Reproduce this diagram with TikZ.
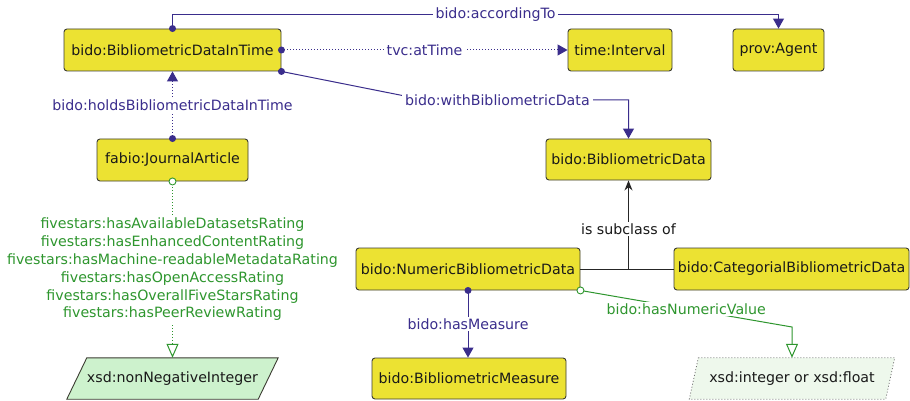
\documentclass[tikz,border=0pt]{standalone}
\usepackage{fontspec}
\setmainfont{DejaVu Sans}
\usetikzlibrary{arrows.meta,calc,backgrounds}
\definecolor{boxfill}{RGB}{236,226,50}
\definecolor{boxline}{RGB}{60,60,50}
\definecolor{objprop}{RGB}{58,45,140}
\definecolor{dataprop}{RGB}{46,150,46}
\definecolor{dtfill}{RGB}{205,242,205}
\definecolor{dtfaint}{RGB}{238,248,236}

\begin{document}
\begin{tikzpicture}[x=1pt,y=-1pt,
  every node/.style={font=\fontsize{14.2}{17.8}\selectfont, inner sep=0pt},
  cls/.style={draw=boxline, fill=boxfill, rounded corners=3pt, line width=0.9pt,
    minimum height=42pt, text=black!90},
  dtype/.style={minimum height=41pt, text=black!90},
  lbl/.style={fill=white, inner xsep=3pt, inner ysep=1.5pt},
  oprop/.style={draw=objprop, line width=1pt, text=objprop,
    -{Triangle[length=10pt,width=11pt]}},
  dprop/.style={draw=dataprop, line width=1pt, text=dataprop,
    -{Triangle[open,length=14pt,width=12pt,fill=white]}},
  dotline/.style={dash pattern=on 1pt off 2pt},
  subcls/.style={draw=black!85, line width=1pt},
  odot/.style={fill=objprop},
  ocirc/.style={draw=dataprop, fill=white, line width=0.9pt}
]
\useasboundingbox (0,0) rectangle (910,401);

% classes
\node[cls, minimum width=217pt] (bdit) at (172.5,50) {bido:BibliometricDataInTime};
\node[cls, minimum width=104pt] (interval) at (620,50) {time:Interval};
\node[cls, minimum width=91pt] (agent) at (778.5,50) {prov:Agent};
\node[cls, minimum width=165pt, minimum height=41pt] (bdata) at (628.5,159.5) {bido:BibliometricData};
\node[cls, minimum width=151pt] (ja) at (172.5,160) {fabio:JournalArticle};
\node[cls, minimum width=224pt] (numeric) at (468,269) {bido:NumericBibliometricData};
\node[cls, minimum width=235pt] (categorial) at (791.5,269) {bido:CategorialBibliometricData};
\node[cls, minimum width=194pt, minimum height=41pt] (measure) at (469,378.5) {bido:BibliometricMeasure};

% datatypes
\node[dtype, minimum width=191pt] (nni) at (172.5,378.5) {xsd:nonNegativeInteger};
\node[dtype, minimum width=196pt] (numval) at (792,378.5) {xsd:integer or xsd:float};

\begin{scope}[on background layer]
  \fill[white] (0,0) rectangle (910,401);
  \filldraw[fill=dtfill, draw=boxline, line width=0.9pt]
    ($(nni.north west)+(10,0)$) -- ($(nni.north east)+(10,0)$) --
    ($(nni.south east)+(-10,0)$) -- ($(nni.south west)+(-10,0)$) -- cycle;
  \filldraw[fill=dtfaint, draw=black!55, line width=0.8pt, dotline]
    ($(numval.north west)+(4.5,0)$) -- ($(numval.north east)+(4.5,0)$) --
    ($(numval.south east)+(-4.5,0)$) -- ($(numval.south west)+(-4.5,0)$) -- cycle;
\end{scope}

% object properties
\draw[oprop] (bdit.north) -- ++(0,-14) coordinate (acc)
  -- (acc -| agent.north) node[lbl, pos=0.533] {bido:accordingTo} -- (agent.north);
\draw[oprop, dotline] (bdit.east) -- node[lbl] {tvc:atTime} (interval.west);
\coordinate (wbend) at (425,100);
\draw[oprop] (bdit.south east) -- (wbend)
  -- (wbend -| bdata.north) node[lbl, pos=0.356] {bido:withBibliometricData} -- (bdata.north);
\draw[oprop, dotline] (ja.north) -- node[lbl] {bido:holdsBibliometricDataInTime} (ja.north |- bdit.south);
\draw[oprop] (numeric.south) -- node[lbl] {bido:hasMeasure} (numeric.south |- measure.north);

% subclass relation
\coordinate (join) at (bdata.south |- numeric.east);
\draw[subcls] (numeric.east) -- (categorial.west);
\draw[subcls, -{Stealth[length=10pt,width=8pt]}] (join) -- node[lbl, pos=0.45, text=black!90] {is subclass of} (bdata.south);

% data properties
\draw[dprop, dotline] (ja.south) -- (ja.south |- nni.north);
\node[fill=white, align=center, text=dataprop, inner ysep=2pt] (fsprops) at (172.5,269.5)
  {fivestars:hasAvailableDatasetsRating\\
   fivestars:hasEnhancedContentRating\\
   fivestars:hasMachine-readableMetadataRating\\
   fivestars:hasOpenAccessRating\\
   fivestars:hasOverallFiveStarsRating\\
   fivestars:hasPeerReviewRating};
\coordinate (nvbend) at (numval.north |- 0,327);
\draw[dprop] (numeric.south east) -- node[lbl, pos=0.5] {bido:hasNumericValue} (nvbend) -- (numval.north);

% property end dots
\fill[odot] (bdit.north) circle (3.5pt);
\fill[odot] (bdit.east) circle (3.5pt);
\fill[odot] (bdit.south east) circle (3.5pt);
\fill[odot] (ja.north) circle (3.5pt);
\fill[odot] (numeric.south) circle (3.5pt);
\filldraw[ocirc] (ja.south) circle (3.5pt);
\filldraw[ocirc] (numeric.south east) circle (3.5pt);
\end{tikzpicture}
\end{document}
